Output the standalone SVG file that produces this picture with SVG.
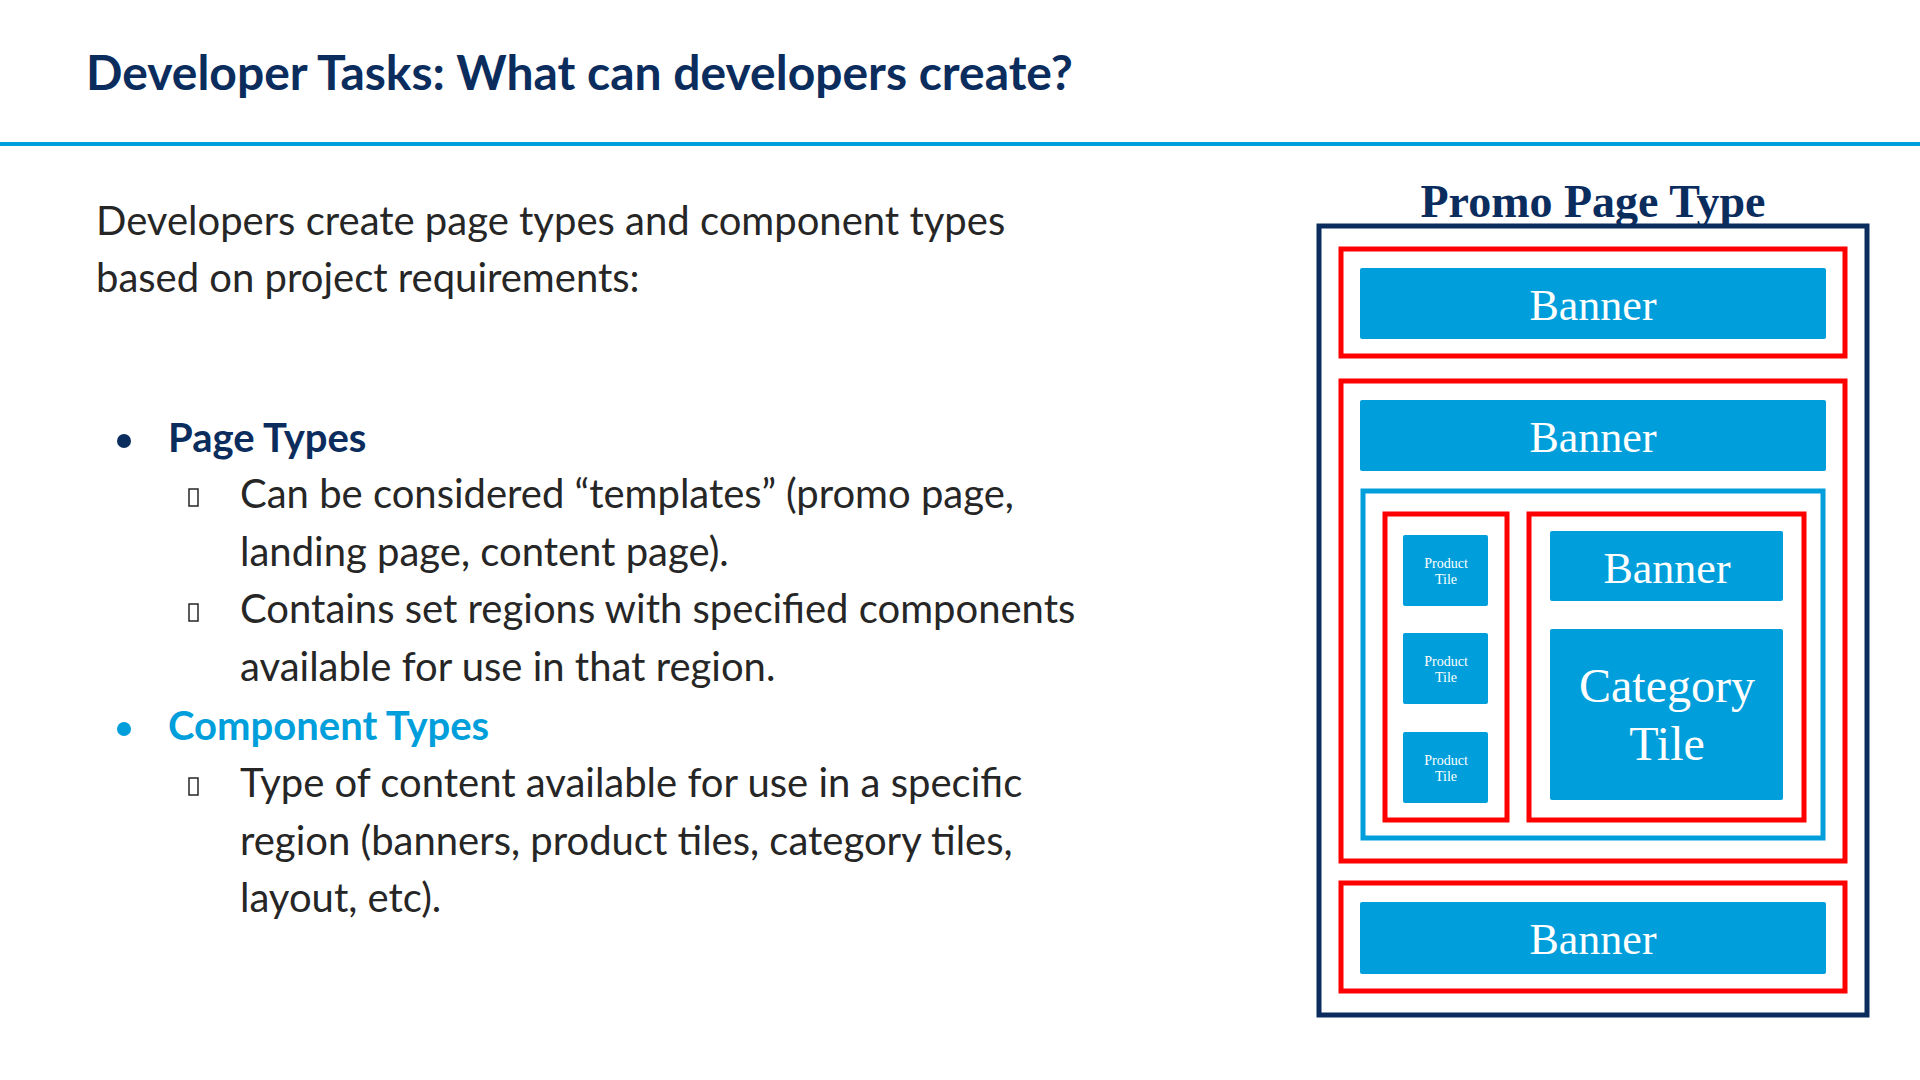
<svg xmlns="http://www.w3.org/2000/svg" width="1920" height="1080" viewBox="0 0 1920 1080">
<style>
.t{font-family:Lato,"Open Sans",sans-serif;}
.b{font-family:Lato,"Open Sans",sans-serif;font-size:40px;fill:#262626;}
.red{fill:none;stroke:#FF0000;stroke-width:5;}
.tile{fill:#009FDB;}
.lbl{font-family:"Liberation Serif",serif;fill:#fff;text-anchor:middle;}
</style>
<rect width="1920" height="1080" fill="#fff"/>
<text class="t" x="86" y="90" font-size="48" font-weight="bold" fill="#0B2D5E">Developer Tasks: What can developers create?</text>
<rect x="0" y="142" width="1920" height="4" fill="#009FDB"/>
<text class="b" x="96" y="235">Developers create page types and component types</text>
<text class="b" x="96" y="292">based on project requirements:</text>
<circle cx="124" cy="441" r="7" fill="#0B2D5E"/>
<text class="t" x="168" y="452" font-size="40" font-weight="bold" fill="#0B2D5E">Page Types</text>
<g fill="none" stroke="#262626" stroke-width="1.5">
<rect x="189" y="489" width="9" height="17"/><rect x="189" y="604" width="9" height="17"/><rect x="189" y="778" width="9" height="17"/>
</g>
<text class="b" x="240" y="508">Can be considered “templates” (promo page,</text>
<text class="b" x="240" y="566">landing page, content page).</text>
<text class="b" x="240" y="623">Contains set regions with specified components</text>
<text class="b" x="240" y="681">available for use in that region.</text>
<circle cx="124" cy="729" r="7" fill="#009FDB"/>
<text class="t" x="168" y="740" font-size="40" font-weight="bold" fill="#009FDB">Component Types</text>
<text class="b" x="240" y="797">Type of content available for use in a specific</text>
<text class="b" x="240" y="855">region (banners, product tiles, category tiles,</text>
<text class="b" x="240" y="912">layout, etc).</text>
<g id="promo">
<text x="1593" y="217" font-family="Liberation Serif,serif" font-size="46" font-weight="bold" fill="#0B2D5E" text-anchor="middle">Promo Page Type</text>
<rect x="1319" y="226" width="548" height="789" fill="none" stroke="#0B2D5E" stroke-width="5"/>
</g>
<g id="region1"><rect class="red" x="1341" y="249" width="504" height="107"/>
<rect class="tile" x="1360" y="268" width="466" height="71" rx="2"/><text class="lbl" x="1593" y="320" font-size="44">Banner</text></g>
<g id="region2"><rect class="red" x="1341" y="381" width="504" height="480"/>
<rect class="tile" x="1360" y="400" width="466" height="71" rx="2"/><text class="lbl" x="1593" y="452" font-size="44">Banner</text>
<rect x="1363" y="491" width="460" height="347" fill="none" stroke="#009FDB" stroke-width="5"/>
<rect class="red" x="1385" y="514" width="122" height="306"/>
<rect class="tile" x="1403" y="535" width="85" height="71" rx="2"/><text class="lbl" x="1446" y="568" font-size="14">Product</text><text class="lbl" x="1446" y="584" font-size="14">Tile</text>
<rect class="tile" x="1403" y="633" width="85" height="71" rx="2"/><text class="lbl" x="1446" y="666" font-size="14">Product</text><text class="lbl" x="1446" y="682" font-size="14">Tile</text>
<rect class="tile" x="1403" y="732" width="85" height="71" rx="2"/><text class="lbl" x="1446" y="765" font-size="14">Product</text><text class="lbl" x="1446" y="781" font-size="14">Tile</text>
<rect class="red" x="1529" y="514" width="275" height="306"/>
<rect class="tile" x="1550" y="531" width="233" height="70" rx="2"/><text class="lbl" x="1667" y="583" font-size="44">Banner</text>
<rect class="tile" x="1550" y="629" width="233" height="171" rx="2"/><text class="lbl" x="1667" y="702" font-size="48">Category</text><text class="lbl" x="1667" y="760" font-size="48">Tile</text></g>
<g id="region3"><rect class="red" x="1341" y="883" width="504" height="108"/>
<rect class="tile" x="1360" y="902" width="466" height="72" rx="2"/><text class="lbl" x="1593" y="954" font-size="44">Banner</text></g>
</svg>
